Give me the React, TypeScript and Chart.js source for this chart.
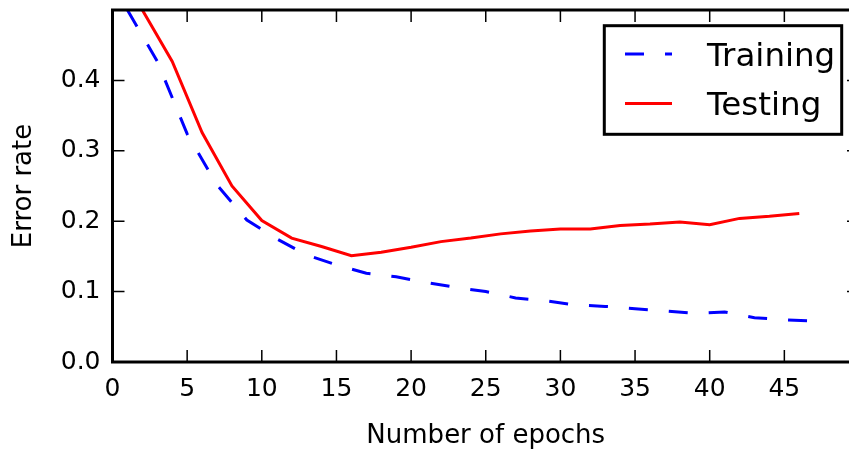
import { useEffect, useRef } from "react";
import { Chart, registerables } from "chart.js";

Chart.register(...registerables);

const FONT = "DejaVu Sans";

const trainEpochs = [1, 3, 5, 7, 9, 11, 13, 15, 17, 19, 21, 23, 25, 27, 29, 31, 33, 35, 37, 39, 41, 43, 45, 47];
const trainError = [0.5, 0.427, 0.324, 0.2515, 0.2016, 0.175, 0.152, 0.138, 0.126, 0.121, 0.113, 0.106, 0.1, 0.091, 0.087, 0.081, 0.079, 0.0755, 0.0725, 0.069, 0.071, 0.063, 0.06, 0.058];

const testEpochs = [2, 4, 6, 8, 10, 12, 14, 16, 18, 20, 22, 24, 26, 28, 30, 32, 34, 36, 38, 40, 42, 44, 46];
const testError = [0.5, 0.427, 0.326, 0.25, 0.201, 0.176, 0.164, 0.151, 0.156, 0.163, 0.171, 0.176, 0.182, 0.186, 0.189, 0.189, 0.194, 0.196, 0.199, 0.195, 0.204, 0.207, 0.211];

const xTicks = [0, 5, 10, 15, 20, 25, 30, 35, 40, 45, 50];
const yTicks = [0, 0.1, 0.2, 0.3, 0.4];

const seriesLabels = ["Training", "Testing"];
const xTitle = "Number of epochs";
const yTitle = "Error rate";

const zeroPad = (s: any) => {
  s.paddingTop = 0;
  s.paddingBottom = 0;
  s.paddingLeft = 0;
  s.paddingRight = 0;
};

const framePlugin = {
  id: "frame",
  afterDraw(chart: any) {
    const { ctx, chartArea } = chart;
    const { left, right, top, bottom } = chartArea;
    const x = chart.scales.x;
    const y = chart.scales.y;
    ctx.save();
    ctx.strokeStyle = "#000";
    ctx.lineWidth = 1.5;
    ctx.beginPath();
    for (const v of xTicks) {
      const px = x.getPixelForValue(v);
      ctx.moveTo(px, bottom);
      ctx.lineTo(px, bottom - 12);
      ctx.moveTo(px, top);
      ctx.lineTo(px, top + 12);
    }
    for (const v of yTicks) {
      const py = y.getPixelForValue(v);
      ctx.moveTo(left, py);
      ctx.lineTo(left + 12, py);
      ctx.moveTo(right, py);
      ctx.lineTo(right - 12, py);
    }
    ctx.stroke();
    ctx.lineWidth = 3;
    ctx.strokeRect(left, top, right - left, bottom - top);

    // legend box
    const bx = 604.3, by = 25.7, bw = 237.4, bh = 108.6;
    ctx.fillStyle = "#fff";
    ctx.fillRect(bx, by, bw, bh);
    ctx.strokeStyle = "#000";
    ctx.lineWidth = 3;
    ctx.strokeRect(bx, by, bw, bh);

    const ds = chart.data.datasets;
    const rows = [
      { ly: 54, ty: 65.5 },
      { ly: 103.5, ty: 114.5 },
    ];
    ds.forEach((d: any, i: number) => {
      const r = rows[i];
      ctx.save();
      ctx.strokeStyle = d.borderColor;
      ctx.lineWidth = d.borderWidth;
      ctx.setLineDash(d.borderDash || []);
      ctx.beginPath();
      ctx.moveTo(625, r.ly);
      ctx.lineTo(672, r.ly);
      ctx.stroke();
      ctx.restore();
      ctx.fillStyle = "#000";
      ctx.font = `32.5px "${FONT}"`;
      ctx.textAlign = "left";
      ctx.textBaseline = "alphabetic";
      ctx.fillText(d.label, 707, r.ty);
    });
    ctx.restore();
  },
};

export default function App() {
  const ref = useRef<HTMLCanvasElement>(null);
  useEffect(() => {
    document.body.style.margin = "0";
    const chart = new Chart(ref.current!, {
      type: "line",
      data: {
        datasets: [
          {
            label: seriesLabels[0],
            data: trainEpochs.map((e, i) => ({ x: e, y: trainError[i] })),
            borderColor: "#0000ff",
            borderWidth: 3,
            borderDash: [19, 21],
            pointRadius: 0,
            fill: false,
            tension: 0,
          },
          {
            label: seriesLabels[1],
            data: testEpochs.map((e, i) => ({ x: e, y: testError[i] })),
            borderColor: "#ff0000",
            borderWidth: 3,
            pointRadius: 0,
            fill: false,
            tension: 0,
          },
        ],
      },
      options: {
        animation: false,
        responsive: false,
        devicePixelRatio: 1,
        events: [],
        layout: { padding: { left: 0, right: 3, top: 10, bottom: 0 } },
        plugins: { legend: { display: false }, tooltip: { enabled: false } },
        scales: {
          x: {
            type: "linear",
            min: 0,
            max: 50,
            afterBuildTicks: (s: any) => {
              s.ticks = xTicks.filter((v) => v < 50).map((v) => ({ value: v }));
            },
            afterFit: (s: any) => {
              s.height = 90;
              zeroPad(s);
            },
            grid: { display: false, drawTicks: false },
            border: { display: false },
            ticks: {
              font: { family: FONT, size: 25 },
              color: "#000",
              padding: 12.5,
              maxRotation: 0,
              autoSkip: false,
              callback: (v: any) => String(v),
            },
            title: {
              display: true,
              text: xTitle,
              font: { family: FONT, size: 26 },
              color: "#000",
              padding: { top: 0, bottom: 0.5 },
            },
          },
          y: {
            type: "linear",
            min: 0,
            max: 0.5,
            afterBuildTicks: (s: any) => {
              s.ticks = yTicks.map((v) => ({ value: v }));
            },
            afterFit: (s: any) => {
              s.width = 112.5;
              zeroPad(s);
            },
            grid: { display: false, drawTicks: false },
            border: { display: false },
            ticks: {
              font: { family: FONT, size: 25 },
              color: "#000",
              padding: 12,
              autoSkip: false,
              callback: (v: any) => Number(v).toFixed(1),
            },
            title: {
              display: true,
              text: yTitle,
              font: { family: FONT, size: 26 },
              color: "#000",
              padding: { top: 8.4, bottom: 0 },
            },
          },
        },
      },
      plugins: [framePlugin],
    });
    return () => chart.destroy();
  }, []);
  return (
    <div style={{ width: 849, height: 452, overflow: "hidden" }}>
      <canvas ref={ref} width={862} height={452} style={{ display: "block" }} />
    </div>
  );
}
